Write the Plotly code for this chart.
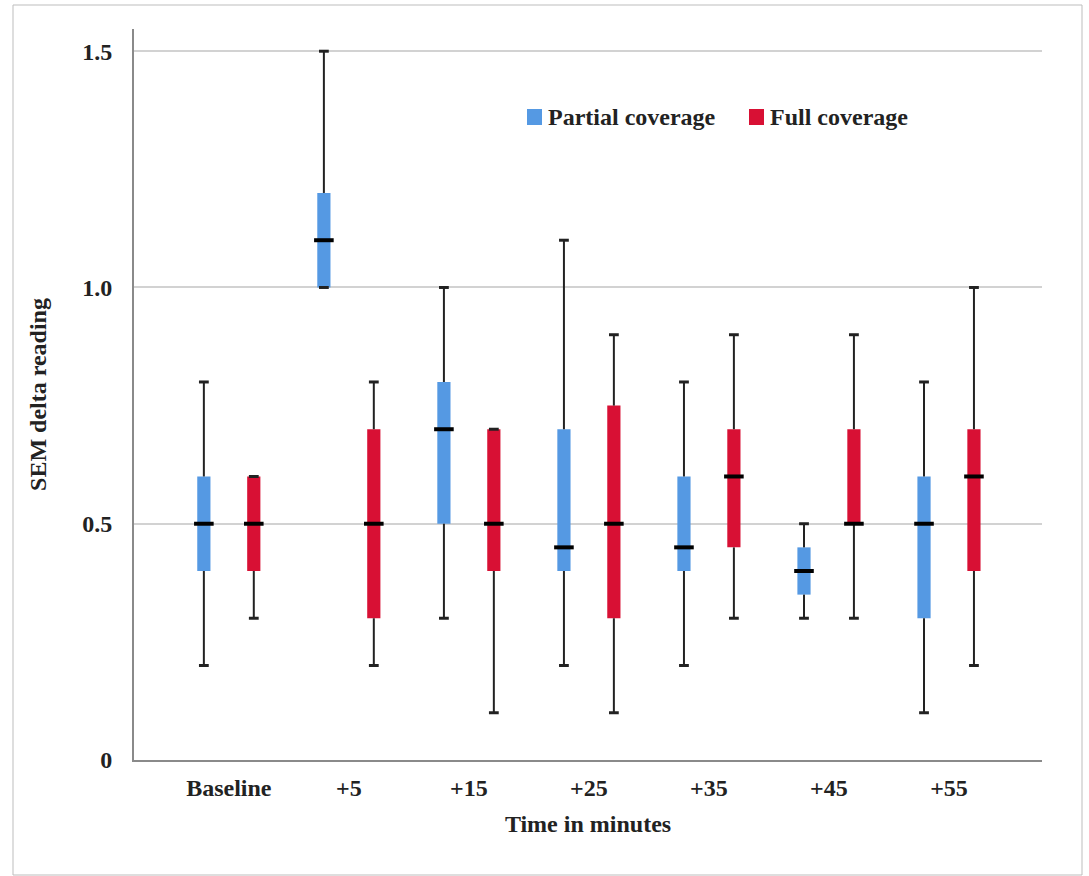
import plotly.graph_objects as go

categories = ["Baseline", "+5", "+15", "+25", "+35", "+45", "+55"]

partial_min = [0.2, 1.0, 0.3, 0.2, 0.2, 0.3, 0.1]
partial_q1 = [0.4, 1.0, 0.5, 0.4, 0.4, 0.35, 0.3]
partial_med = [0.5, 1.1, 0.7, 0.45, 0.45, 0.4, 0.5]
partial_q3 = [0.6, 1.2, 0.8, 0.7, 0.6, 0.45, 0.6]
partial_max = [0.8, 1.5, 1.0, 1.1, 0.8, 0.5, 0.8]

full_min = [0.3, 0.2, 0.1, 0.1, 0.3, 0.3, 0.2]
full_q1 = [0.4, 0.3, 0.4, 0.3, 0.45, 0.5, 0.4]
full_med = [0.5, 0.5, 0.5, 0.5, 0.6, 0.5, 0.6]
full_q3 = [0.6, 0.7, 0.7, 0.75, 0.7, 0.7, 0.7]
full_max = [0.6, 0.8, 0.7, 0.9, 0.9, 0.9, 1.0]

y_ticks = [0, 0.5, 1.0, 1.5]
y_ticklabels = ["0", "0.5", "1.0", "1.5"]

BLUE = "#5599E3"
RED = "#D81034"
FONT = "Liberation Serif"
FS = 24
TXT = "#222222"

fig = go.Figure()

def add_group(name, color, offset, mn, q1, med, q3, mx):
    xs = [i + offset for i in range(len(categories))]
    wx, wy = [], []
    for x, a, b, c, d in zip(xs, mn, q1, q3, mx):
        wx += [x, x, None, x, x, None]
        wy += [a, b, None, c, d, None]
    fig.add_trace(go.Scatter(x=wx, y=wy, mode="lines",
                             line=dict(color="#222222", width=2),
                             showlegend=False, hoverinfo="skip"))
    fig.add_trace(go.Scatter(x=xs + xs, y=list(mn) + list(mx), mode="markers",
                             marker=dict(symbol="line-ew", size=7,
                                         line=dict(color="#222222", width=3)),
                             showlegend=False, hoverinfo="skip"))
    fig.add_trace(go.Bar(x=xs, y=[b - a for a, b in zip(q1, q3)], base=q1,
                         width=0.11, marker=dict(color=color, line=dict(width=0)),
                         name=name, showlegend=False))
    fig.add_trace(go.Scatter(x=xs, y=med, mode="markers",
                             marker=dict(symbol="line-ew", size=14,
                                         line=dict(color="black", width=4)),
                             showlegend=False, hoverinfo="skip"))

add_group("Partial coverage", BLUE, -0.208, partial_min, partial_q1, partial_med, partial_q3, partial_max)
add_group("Full coverage", RED, 0.208, full_min, full_q1, full_med, full_q3, full_max)

fig.update_layout(
    width=1089, height=876,
    margin=dict(l=134, r=47, t=29, b=116),
    paper_bgcolor="white", plot_bgcolor="white",
    font=dict(family=FONT, size=FS, color=TXT),
    barmode="overlay",
    showlegend=False,
)

fig.update_xaxes(
    range=[-0.79, 6.775],
    tickmode="array", tickvals=list(range(len(categories))), ticktext=categories,
    tickfont=dict(family=FONT, size=FS, color=TXT, weight="bold"),
    showgrid=False, zeroline=False,
    showline=True, linecolor="#8a8a8a", linewidth=2,
    ticks="", ticklabelstandoff=5,
    title=dict(text="<b>Time in minutes</b>", font=dict(family=FONT, size=FS, color=TXT), standoff=15),
)
fig.update_yaxes(
    range=[0, 1.547],
    tickmode="array", tickvals=y_ticks, ticktext=y_ticklabels,
    tickfont=dict(family=FONT, size=FS, color=TXT, weight="bold"),
    showgrid=True, gridcolor="#d2d2d2", gridwidth=2,
    zeroline=False,
    showline=True, linecolor="#8a8a8a", linewidth=2,
    ticks="", ticklabelstandoff=15,
    title=dict(text="<b>SEM delta reading</b>", font=dict(family=FONT, size=FS, color=TXT), standoff=29),
)

fig.add_shape(type="rect", xref="paper", yref="paper",
              x0=(13 - 134) / 908, x1=(1082 - 134) / 908,
              y0=(760 - 875) / 731, y1=(760 - 5) / 731,
              line=dict(color="#bdbdbd", width=1), fillcolor="rgba(0,0,0,0)", layer="below")

legend_items = [("Partial coverage", BLUE, 527), ("Full coverage", RED, 749)]
for label, color, px in legend_items:
    x0 = (px - 134) / 908
    x1 = (px + 15 - 134) / 908
    yc = (760 - 117) / 731
    fig.add_shape(type="rect", xref="paper", yref="paper",
                  x0=x0, x1=x1, y0=yc - 8 / 731, y1=yc + 8 / 731,
                  line=dict(width=0), fillcolor=color)
    fig.add_annotation(xref="paper", yref="paper", x=(px + 19 - 134) / 908, y=yc,
                       text="<b>" + label + "</b>", showarrow=False,
                       xanchor="left", yanchor="middle",
                       font=dict(family=FONT, size=FS, color=TXT))

fig.write_html("out.html", config={"displayModeBar": False},
               post_script="document.body.style.margin='0';document.body.style.padding='0';")
